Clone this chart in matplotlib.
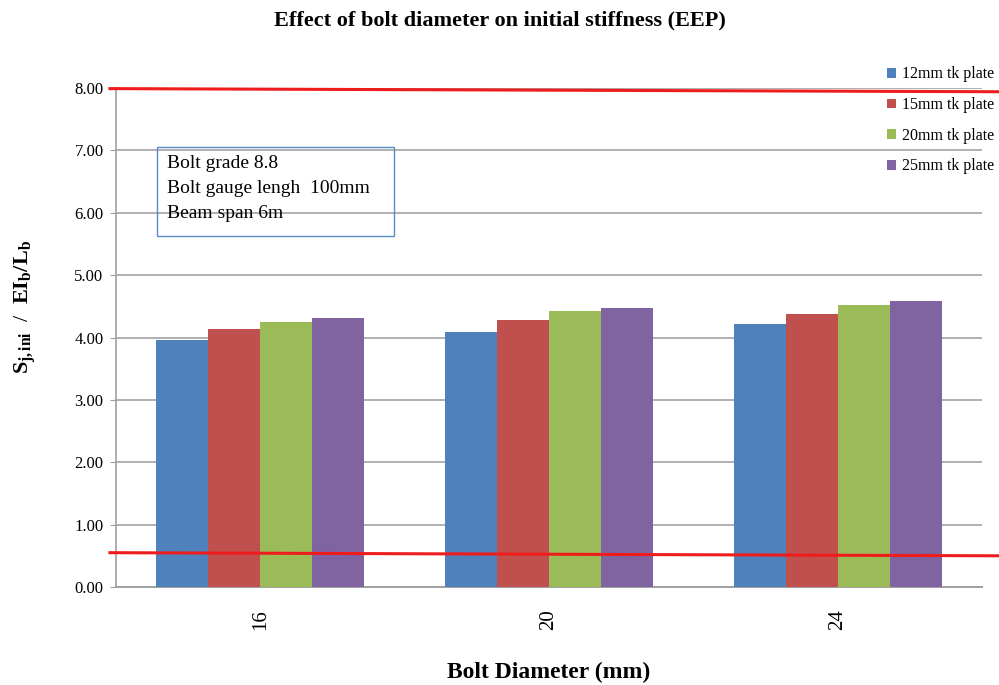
import numpy as np
import matplotlib
matplotlib.use("Agg")
import matplotlib.pyplot as plt
from matplotlib.patches import Rectangle

# ========================= DATA =========================
diameters = ["16", "20", "24"]
series_names = ["12mm tk plate", "15mm tk plate", "20mm tk plate", "25mm tk plate"]
plate_12 = [3.96, 4.09, 4.21]
plate_15 = [4.13, 4.28, 4.38]
plate_20 = [4.25, 4.42, 4.52]
plate_25 = [4.32, 4.47, 4.58]
colors = ["#4f81bd", "#c0504d", "#9bbb59", "#8064a2"]

# hand-drawn red limit lines (start value, end value)
upper_limit = (7.99, 7.94)
lower_limit = (0.55, 0.50)

note_lines = ["Bolt grade 8.8", "Bolt gauge lengh  100mm", "Beam span 6m"]

# ========================= STYLE =========================
plt.rcParams["font.family"] = ["Liberation Serif", "DejaVu Serif"]
plt.rcParams["mathtext.fontset"] = "custom"
plt.rcParams["mathtext.rm"] = "Liberation Serif"
plt.rcParams["mathtext.bf"] = "Liberation Serif:bold"
plt.rcParams["mathtext.it"] = "Liberation Serif:italic"

fig = plt.figure(figsize=(9.99, 6.85), dpi=100)
ax = fig.add_axes([116 / 999, 1 - 587 / 685, 866 / 999, 499 / 685])

x = np.arange(len(diameters))
width = 0.18
all_series = [plate_12, plate_15, plate_20, plate_25]
for i, vals in enumerate(all_series):
    ax.bar(x + (i - 1.5) * width, vals, width, color=colors[i],
           label=series_names[i], zorder=3)

ax.set_xlim(-0.5, len(diameters) - 0.5)
ax.set_ylim(0, 8)
ax.set_yticks(np.arange(0, 9, 1))
ax.set_yticklabels([f"{v:.2f}" for v in np.arange(0, 9, 1)], fontsize=12)
ax.set_xticks(x)
ax.set_xticklabels(diameters, rotation=90, fontsize=15)
ax.tick_params(axis="x", length=0, pad=16)
ax.tick_params(axis="y", length=4, color="#a0a0a0", pad=5)
ax.grid(axis="y", color="#b0b0b0", linewidth=1.4, zorder=0)
for s in ["top", "right"]:
    ax.spines[s].set_visible(False)
ax.spines["left"].set_color("#a0a0a0")
ax.spines["bottom"].set_color("#a0a0a0")
ax.spines["left"].set_linewidth(1.2)
ax.spines["bottom"].set_linewidth(1.4)

# red limit lines drawn across the chart
trans = matplotlib.transforms.blended_transform_factory(ax.transAxes, ax.transData)
for lim in [upper_limit, lower_limit]:
    ax.plot([-0.007, 1.02], lim, color="#ee1c1c", linewidth=2.2,
            transform=trans, clip_on=False, zorder=5)

fig.text(0.5, 1 - 20 / 685, "Effect of bolt diameter on initial stiffness (EEP)",
         fontsize=16, fontweight="bold", ha="center", va="center")
fig.text(0.549, 1 - 672 / 685, "Bolt Diameter (mm)", fontsize=17, fontweight="bold",
         ha="center", va="center")
fig.text(0.025, 1 - 307 / 685, r"$\mathbf{S_{j,ini}}$  /  $\mathbf{EI_b/L_b}$",
         fontsize=16, rotation=90, ha="center", va="center")

leg = fig.legend(loc="upper left", bbox_to_anchor=(873 / 999, 1 - 52 / 685), frameon=False,
                 fontsize=11.5, handlelength=0.55, handleheight=0.55,
                 handletextpad=0.35, labelspacing=0.92)

# note box
box = Rectangle((157 / 999, 1 - 236 / 685), 237 / 999, 89 / 685,
                transform=fig.transFigure, fill=False,
                edgecolor="#5b8bc8", linewidth=1.0, zorder=6)
fig.patches.append(box)
for j, line in enumerate(note_lines):
    fig.text(167 / 999, 1 - (164 + j * 24.5) / 685, line, fontsize=14,
             ha="left", va="center")

fig.savefig("out.png", dpi=100)
